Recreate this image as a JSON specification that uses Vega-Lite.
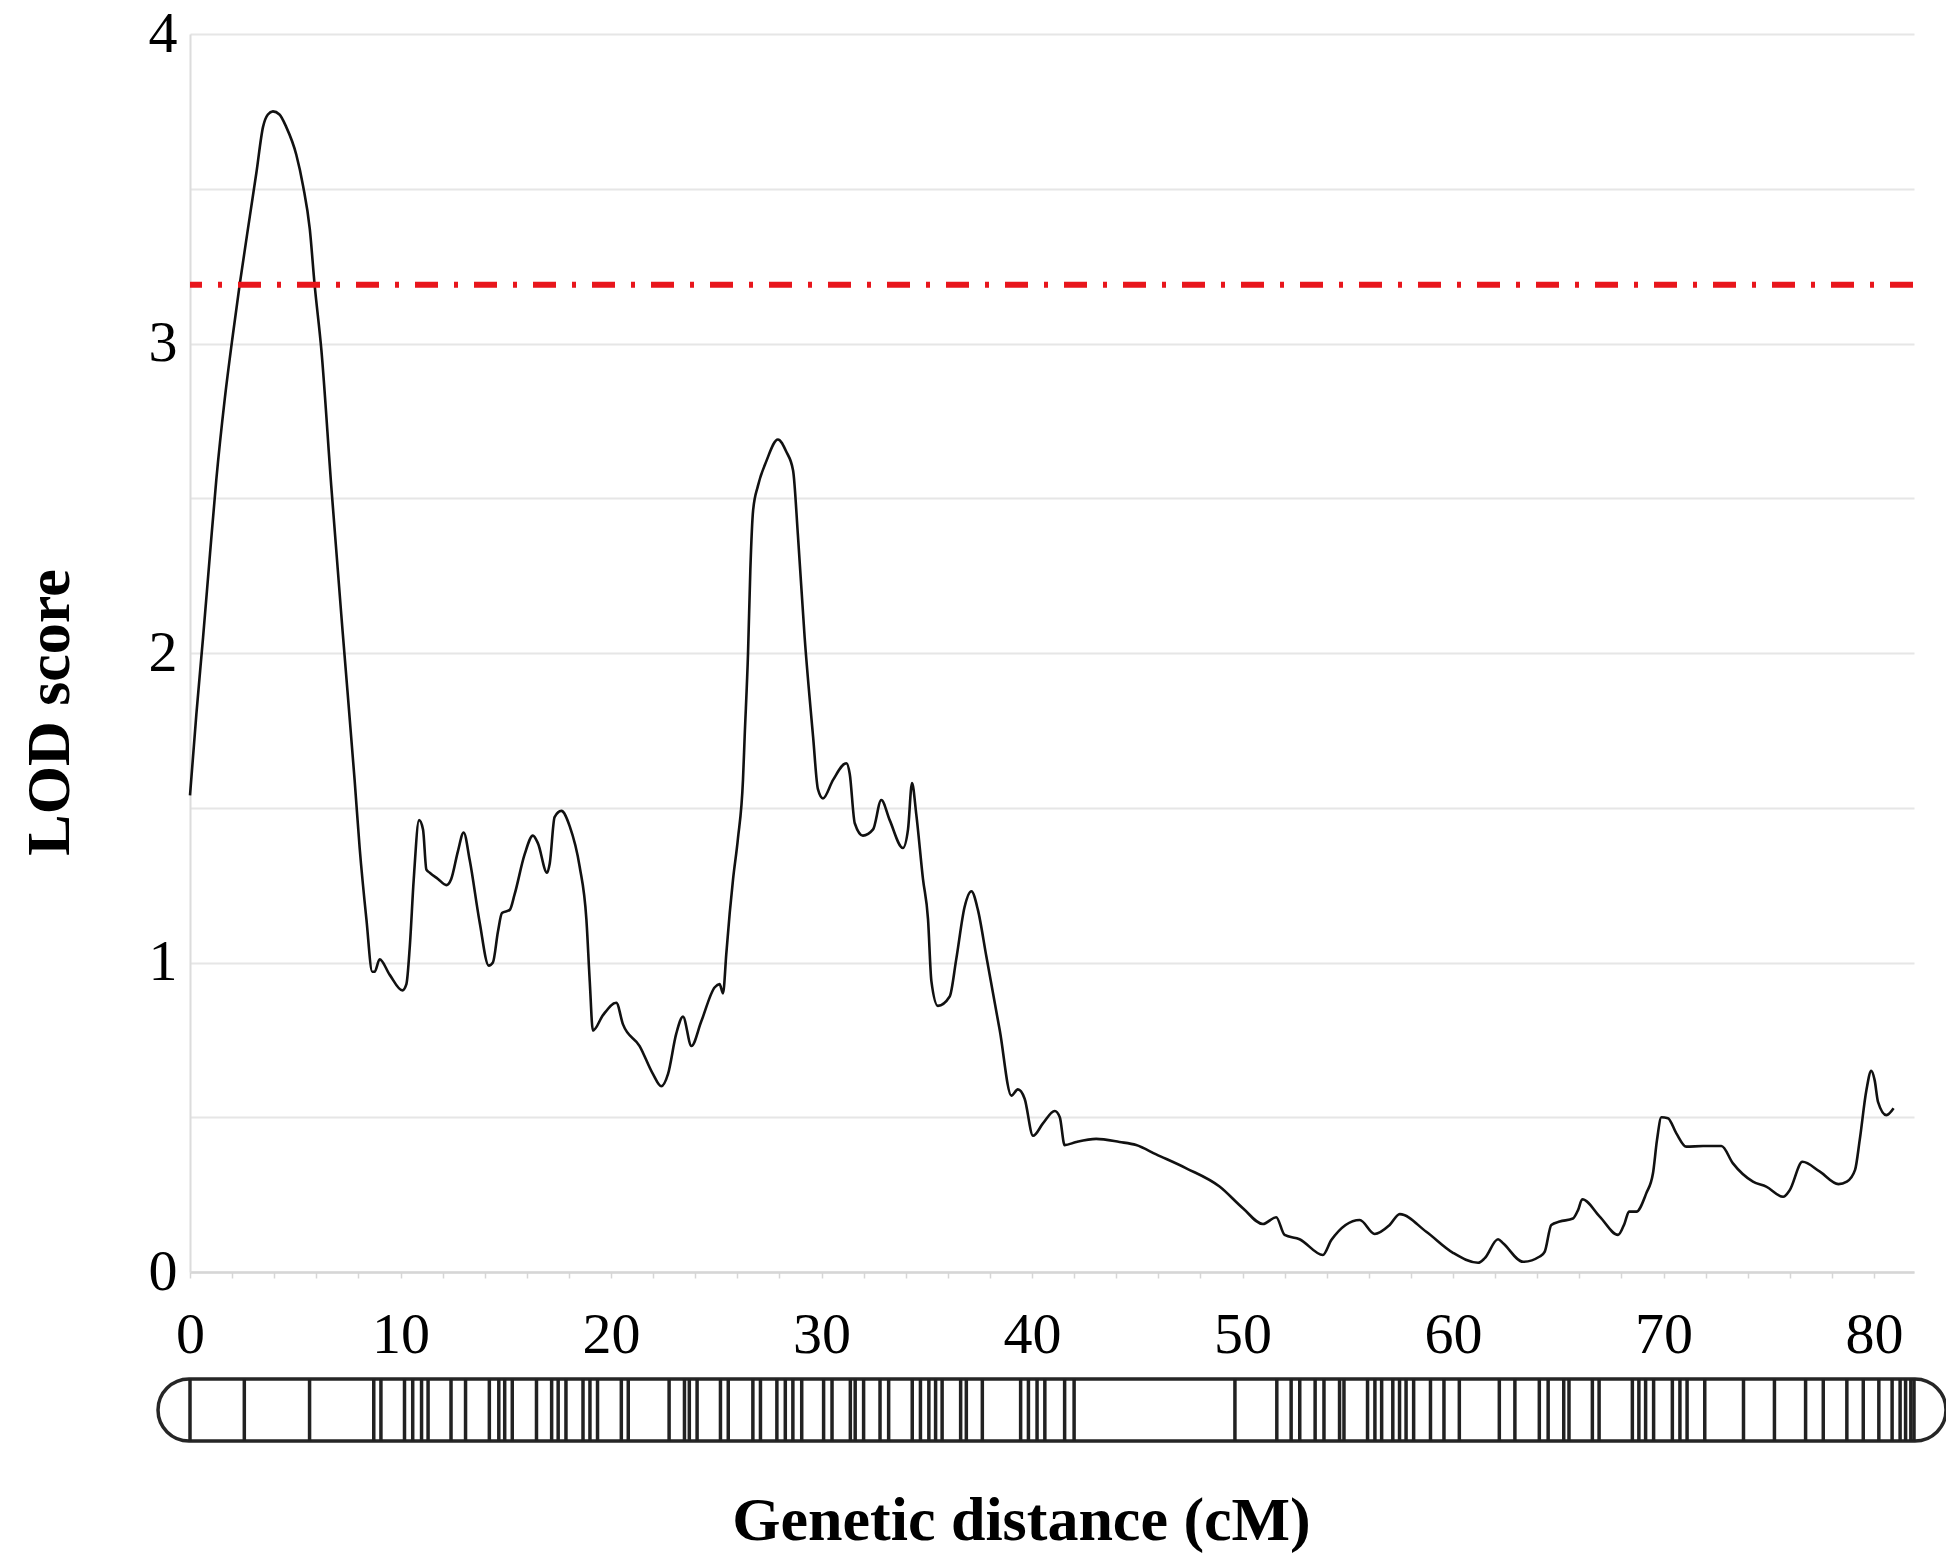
{
  "$schema": "https://vega.github.io/schema/vega-lite/v6.json",
  "background": "white",
  "padding": {"left": 18, "top": 5, "right": 5, "bottom": 5},
  "spacing": 107,
  "bounds": "flush",
  "config": {"view": {"stroke": null}},
  "datasets": {
    "curve": [
      {"cM":0,"lod":1.54},{"cM":0.3,"lod":1.8},{"cM":0.62,"lod":2.05},{"cM":0.95,"lod":2.32},{"cM":1.25,"lod":2.56},{"cM":1.65,"lod":2.82},{"cM":2.04,"lod":3.03},{"cM":2.36,"lod":3.19},{"cM":2.84,"lod":3.41},{"cM":3.15,"lod":3.55},{"cM":3.47,"lod":3.7},{"cM":3.7,"lod":3.74},{"cM":3.94,"lod":3.75},{"cM":4.25,"lod":3.74},{"cM":4.57,"lod":3.7},{"cM":5.05,"lod":3.61},{"cM":5.37,"lod":3.51},{"cM":5.69,"lod":3.37},{"cM":5.92,"lod":3.19},{"cM":6.24,"lod":2.98},{"cM":6.71,"lod":2.54},{"cM":7.25,"lod":2.07},{"cM":7.82,"lod":1.59},{"cM":8.06,"lod":1.37},{"cM":8.38,"lod":1.14},{"cM":8.66,"lod":0.97},{"cM":8.77,"lod":0.97},{"cM":9.01,"lod":1.01},{"cM":9.49,"lod":0.96},{"cM":10.09,"lod":0.91},{"cM":10.28,"lod":0.93},{"cM":10.44,"lod":1.05},{"cM":10.63,"lod":1.27},{"cM":10.88,"lod":1.46},{"cM":11.07,"lod":1.43},{"cM":11.23,"lod":1.3},{"cM":11.39,"lod":1.29},{"cM":11.78,"lod":1.27},{"cM":12.18,"lod":1.25},{"cM":12.41,"lod":1.27},{"cM":12.73,"lod":1.36},{"cM":13.0,"lod":1.42},{"cM":13.29,"lod":1.33},{"cM":13.76,"lod":1.13},{"cM":14.19,"lod":0.99},{"cM":14.39,"lod":1.0},{"cM":14.63,"lod":1.1},{"cM":14.82,"lod":1.16},{"cM":15.19,"lod":1.17},{"cM":15.42,"lod":1.22},{"cM":15.9,"lod":1.35},{"cM":16.29,"lod":1.41},{"cM":16.53,"lod":1.385},{"cM":16.96,"lod":1.29},{"cM":17.09,"lod":1.32},{"cM":17.32,"lod":1.47},{"cM":17.64,"lod":1.49},{"cM":18.04,"lod":1.44},{"cM":18.51,"lod":1.31},{"cM":18.83,"lod":1.14},{"cM":18.99,"lod":0.94},{"cM":19.14,"lod":0.78},{"cM":19.62,"lod":0.83},{"cM":20.25,"lod":0.87},{"cM":20.57,"lod":0.8},{"cM":21.36,"lod":0.73},{"cM":21.99,"lod":0.64},{"cM":22.39,"lod":0.6},{"cM":22.71,"lod":0.64},{"cM":23.1,"lod":0.77},{"cM":23.42,"lod":0.825},{"cM":23.82,"lod":0.73},{"cM":24.29,"lod":0.81},{"cM":24.93,"lod":0.92},{"cM":25.16,"lod":0.93},{"cM":25.32,"lod":0.9},{"cM":25.48,"lod":1.03},{"cM":25.64,"lod":1.16},{"cM":25.8,"lod":1.27},{"cM":26.03,"lod":1.4},{"cM":26.27,"lod":1.59},{"cM":26.35,"lod":1.73},{"cM":26.51,"lod":2.0},{"cM":26.62,"lod":2.27},{"cM":26.75,"lod":2.46},{"cM":26.98,"lod":2.54},{"cM":27.38,"lod":2.62},{"cM":27.93,"lod":2.69},{"cM":28.33,"lod":2.65},{"cM":28.65,"lod":2.59},{"cM":28.88,"lod":2.38},{"cM":29.2,"lod":2.05},{"cM":29.6,"lod":1.73},{"cM":29.83,"lod":1.56},{"cM":30.07,"lod":1.53},{"cM":30.55,"lod":1.59},{"cM":31.18,"lod":1.644},{"cM":31.34,"lod":1.61},{"cM":31.58,"lod":1.45},{"cM":31.97,"lod":1.41},{"cM":32.45,"lod":1.43},{"cM":32.84,"lod":1.525},{"cM":33.24,"lod":1.46},{"cM":33.87,"lod":1.37},{"cM":34.11,"lod":1.43},{"cM":34.3,"lod":1.58},{"cM":34.5,"lod":1.48},{"cM":34.82,"lod":1.27},{"cM":35.06,"lod":1.14},{"cM":35.22,"lod":0.94},{"cM":35.53,"lod":0.86},{"cM":36.09,"lod":0.89},{"cM":36.4,"lod":1.01},{"cM":36.8,"lod":1.18},{"cM":37.12,"lod":1.23},{"cM":37.43,"lod":1.17},{"cM":37.83,"lod":1.02},{"cM":38.47,"lod":0.78},{"cM":39.02,"lod":0.57},{"cM":39.33,"lod":0.59},{"cM":39.65,"lod":0.56},{"cM":40.05,"lod":0.44},{"cM":40.52,"lod":0.48},{"cM":41.08,"lod":0.52},{"cM":41.32,"lod":0.5},{"cM":41.55,"lod":0.41},{"cM":42.1,"lod":0.42},{"cM":43.05,"lod":0.43},{"cM":44.16,"lod":0.42},{"cM":44.95,"lod":0.41},{"cM":45.9,"lod":0.38},{"cM":47.33,"lod":0.335},{"cM":48.91,"lod":0.276},{"cM":50.02,"lod":0.206},{"cM":50.97,"lod":0.155},{"cM":51.6,"lod":0.177},{"cM":52.0,"lod":0.12},{"cM":52.71,"lod":0.106},{"cM":53.82,"lod":0.055},{"cM":54.22,"lod":0.103},{"cM":55.57,"lod":0.168},{"cM":56.28,"lod":0.123},{"cM":56.99,"lod":0.152},{"cM":57.47,"lod":0.187},{"cM":58.73,"lod":0.13},{"cM":60.0,"lod":0.062},{"cM":61.19,"lod":0.03},{"cM":61.5,"lod":0.044},{"cM":62.14,"lod":0.106},{"cM":62.38,"lod":0.093},{"cM":63.33,"lod":0.033},{"cM":64.12,"lod":0.05},{"cM":64.36,"lod":0.066},{"cM":64.67,"lod":0.152},{"cM":65.07,"lod":0.163},{"cM":65.7,"lod":0.173},{"cM":65.94,"lod":0.2},{"cM":66.14,"lod":0.235},{"cM":66.97,"lod":0.179},{"cM":67.84,"lod":0.12},{"cM":68.15,"lod":0.157},{"cM":68.36,"lod":0.195},{"cM":68.71,"lod":0.195},{"cM":69.18,"lod":0.254},{"cM":69.5,"lod":0.319},{"cM":69.69,"lod":0.426},{"cM":69.9,"lod":0.5},{"cM":70.21,"lod":0.497},{"cM":70.61,"lod":0.448},{"cM":71.08,"lod":0.405},{"cM":71.88,"lod":0.407},{"cM":72.75,"lod":0.407},{"cM":73.3,"lod":0.351},{"cM":74.25,"lod":0.292},{"cM":74.88,"lod":0.276},{"cM":75.68,"lod":0.243},{"cM":76.0,"lod":0.265},{"cM":76.6,"lod":0.356},{"cM":77.43,"lod":0.324},{"cM":78.31,"lod":0.284},{"cM":78.71,"lod":0.292},{"cM":79.1,"lod":0.33},{"cM":79.32,"lod":0.426},{"cM":79.64,"lod":0.588},{"cM":79.87,"lod":0.65},{"cM":80.03,"lod":0.62},{"cM":80.19,"lod":0.55},{"cM":80.59,"lod":0.507},{"cM":80.93,"lod":0.529}
    ],
    "threshold": [{"from": 0, "to": 82.4, "lod": 3.19}],
    "chromosome": [{"start": -1.52, "end": 83.42}],
    "markers": [
      {"cM":0},{"cM":2.58},{"cM":5.68},{"cM":8.73},{"cM":9.07},{"cM":10.19},{"cM":10.58},{"cM":11.0},{"cM":11.31},{"cM":12.4},{"cM":13.09},{"cM":14.22},{"cM":14.67},{"cM":14.95},{"cM":15.31},{"cM":16.46},{"cM":17.18},{"cM":17.49},{"cM":17.86},{"cM":18.67},{"cM":19.0},{"cM":19.36},{"cM":20.49},{"cM":20.82},{"cM":22.76},{"cM":23.49},{"cM":23.72},{"cM":24.09},{"cM":25.2},{"cM":25.57},{"cM":26.74},{"cM":27.1},{"cM":27.88},{"cM":28.28},{"cM":28.64},{"cM":29.06},{"cM":30.1},{"cM":30.5},{"cM":31.37},{"cM":31.6},{"cM":32.0},{"cM":32.78},{"cM":33.19},{"cM":34.31},{"cM":34.7},{"cM":35.1},{"cM":35.42},{"cM":35.73},{"cM":36.61},{"cM":36.88},{"cM":37.64},{"cM":39.46},{"cM":39.83},{"cM":40.24},{"cM":40.61},{"cM":41.55},{"cM":42.0},{"cM":49.64},{"cM":51.63},{"cM":52.31},{"cM":52.72},{"cM":53.45},{"cM":53.87},{"cM":54.61},{"cM":54.82},{"cM":55.94},{"cM":56.29},{"cM":56.61},{"cM":57.14},{"cM":57.46},{"cM":57.77},{"cM":58.13},{"cM":58.93},{"cM":59.57},{"cM":60.3},{"cM":62.2},{"cM":62.94},{"cM":64.1},{"cM":64.52},{"cM":65.26},{"cM":65.51},{"cM":66.62},{"cM":66.94},{"cM":68.52},{"cM":68.83},{"cM":69.15},{"cM":69.53},{"cM":70.42},{"cM":70.78},{"cM":71.12},{"cM":71.96},{"cM":73.8},{"cM":75.27},{"cM":76.75},{"cM":77.59},{"cM":78.71},{"cM":79.49},{"cM":80.23},{"cM":80.86},{"cM":81.24},{"cM":81.5},{"cM":81.75},{"cM":81.9}
    ]
  },
  "vconcat": [
    {
      "width": 1724,
      "height": 1238,
      "layer": [
        {
          "data": {"name": "curve"},
          "mark": {"type": "line", "color": "#111111", "strokeWidth": 2.6, "interpolate": "monotone"},
          "encoding": {
            "x": {
              "field": "cM", "type": "quantitative",
              "scale": {"domain": [0, 81.9], "nice": false, "zero": false},
              "axis": {
                "title": null,
                "values": [0,2,4,6,8,10,12,14,16,18,20,22,24,26,28,30,32,34,36,38,40,42,44,46,48,50,52,54,56,58,60,62,64,66,68,70,72,74,76,78,80],
                "labelExpr": "datum.value % 10 === 0 ? format(datum.value, 'd') : ''",
                "grid": false,
                "domainColor": "#d6d6d6", "domainWidth": 2.5,
                "tickColor": "#d6d6d6", "tickSize": 6, "tickWidth": 1.5,
                "labelFont": "Liberation Serif", "labelFontSize": 58, "labelColor": "#000000",
                "labelPadding": 28, "labelFlush": false, "labelOverlap": false
              }
            },
            "y": {
              "field": "lod", "type": "quantitative",
              "scale": {"domain": [0, 4], "nice": false},
              "axis": {
                "title": "LOD score",
                "values": [0,0.5,1,1.5,2,2.5,3,3.5,4],
                "labelExpr": "datum.value % 1 === 0 ? format(datum.value, 'd') : ''",
                "grid": true, "gridColor": "#e6e6e6", "gridWidth": 2,
                "ticks": false,
                "domainColor": "#dcdcdc", "domainWidth": 2,
                "labelFont": "Liberation Serif", "labelFontSize": 58, "labelColor": "#000000",
                "labelPadding": 13, "labelOverlap": false,
                "titleFont": "Liberation Serif", "titleFontWeight": "bold", "titleFontSize": 62, "titleColor": "#000000",
                "titleX": -109, "titleY": 678
              }
            }
          }
        },
        {
          "data": {"name": "threshold"},
          "mark": {"type": "rule", "color": "#e8161c", "strokeWidth": 6, "strokeDash": [23, 16, 4, 16], "strokeDashOffset": 11},
          "encoding": {
            "x": {"field": "from", "type": "quantitative"},
            "x2": {"field": "to"},
            "y": {"field": "lod", "type": "quantitative"}
          }
        }
      ]
    },
    {
      "width": 1724,
      "height": 62,
      "layer": [
        {
          "data": {"name": "chromosome"},
          "mark": {"type": "rect", "fill": "#ffffff", "stroke": "#262626", "strokeWidth": 3.5, "cornerRadius": 31},
          "encoding": {
            "x": {
              "field": "start", "type": "quantitative",
              "scale": {"domain": [0, 81.9], "nice": false, "zero": false},
              "axis": {
                "title": "Genetic distance (cM)",
                "labels": false, "ticks": false, "domain": false, "grid": false,
                "titleFont": "Liberation Serif", "titleFontWeight": "bold", "titleFontSize": 62, "titleColor": "#000000",
                "titlePadding": 49, "titleX": 831
              }
            },
            "x2": {"field": "end"},
            "y": {"datum": 0, "type": "quantitative", "scale": {"domain": [0, 1]}, "axis": null},
            "y2": {"datum": 1}
          }
        },
        {
          "data": {"name": "markers"},
          "mark": {"type": "rule", "color": "#222222", "strokeWidth": 3.5},
          "encoding": {
            "x": {"field": "cM", "type": "quantitative"}
          }
        }
      ]
    }
  ]
}
